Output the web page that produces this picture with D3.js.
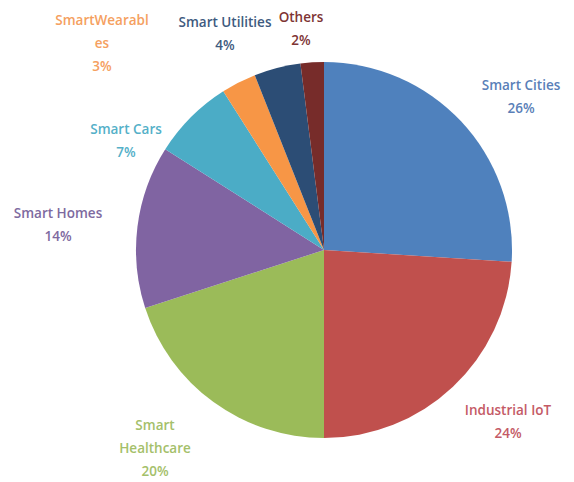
<!DOCTYPE html>
<html>
<head>
<meta charset="utf-8">
<script src="https://cdn.jsdelivr.net/npm/d3@7"></script>
<style>
  html, body { margin: 0; padding: 0; background: #ffffff; }
  svg { display: block; }
  .lbl { font-family: "Open Sans", "Liberation Sans", sans-serif; font-size: 13.5px; font-weight: 600; }
</style>
</head>
<body>
<svg id="chart" width="574" height="482"></svg>
<script>
// IoT application segments, share of total (%)
const categories = ["Smart Cities", "Industrial IoT", "Smart Healthcare", "Smart Homes",
                    "Smart Cars", "SmartWearables", "Smart Utilities", "Others"];
const shares = [26, 24, 20, 14, 7, 3, 4, 2];
// label text as it wraps on the page
const labelLines = [["Smart Cities"], ["Industrial IoT"], ["Smart", "Healthcare"], ["Smart Homes"],
                    ["Smart Cars"], ["SmartWearabl", "es"], ["Smart Utilities"], ["Others"]];

const sliceColors = ["#4F81BD", "#C0504D", "#9BBB59", "#8064A2", "#4BACC6", "#F79646", "#2C4D75", "#772C2A"];
const textColors  = ["#5A7FB8", "#C45A66", "#A4C06A", "#7E6AA0", "#54B0C8", "#F5A060", "#3E5A80", "#7E3434"];

// label anchor (centre x, first baseline y) for each slice
const labelAnchor = [[521, 90], [508, 415], [155, 430], [58, 218], [126, 134], [102, 25], [225, 27], [301, 22]];
const lineHeight = 23;

const svg = d3.select("#chart");
const cx = 324, cy = 250, r = 188;

const pie = d3.pie().sort(null).value(d => d.v);
const arc = d3.arc().innerRadius(0).outerRadius(r);
const data = categories.map((c, i) => ({ c, v: shares[i], i }));
const arcs = pie(data);

const g = svg.append("g").attr("transform", `translate(${cx},${cy})`);
g.selectAll("path.slice")
  .data(arcs)
  .join("path")
  .attr("class", "slice")
  .attr("d", arc)
  .attr("fill", d => sliceColors[d.data.i]);

const labels = svg.selectAll("text.lbl")
  .data(arcs)
  .join("text")
  .attr("class", "lbl")
  .attr("text-anchor", "middle")
  .attr("fill", d => textColors[d.data.i]);

labels.each(function (d) {
  const t = d3.select(this);
  const [x, y] = labelAnchor[d.data.i];
  const lines = labelLines[d.data.i].concat([d.data.v + "%"]);
  lines.forEach((s, k) => {
    t.append("tspan").attr("x", x).attr("y", y + k * lineHeight).text(s);
  });
});
</script>
</body>
</html>
